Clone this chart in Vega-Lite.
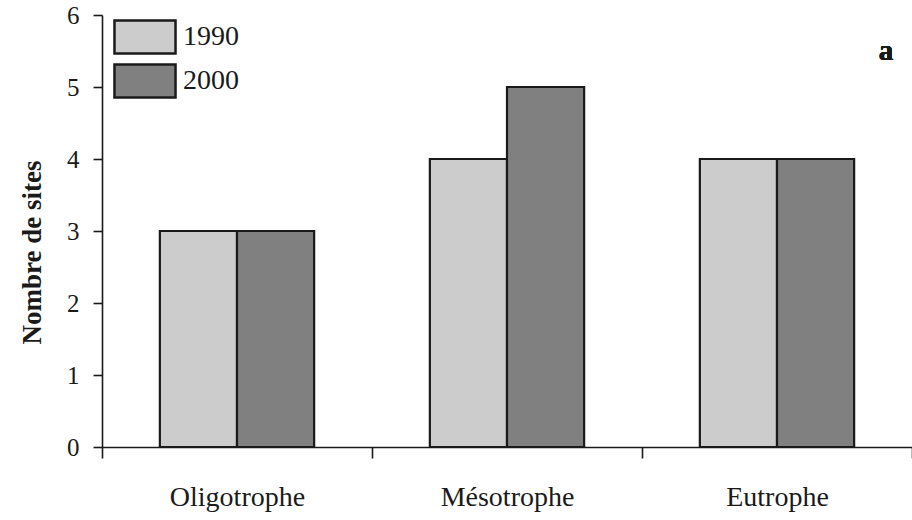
{
  "$schema": "https://vega.github.io/schema/vega-lite/v6.json",
  "width": 810,
  "height": 432,
  "autosize": {"type": "none"},
  "padding": {"left": 102, "top": 15, "right": 0, "bottom": 73},
  "background": "white",
  "data": {
    "values": [
      {"cat": "Oligotrophe", "year": "1990", "value": 3},
      {"cat": "Oligotrophe", "year": "2000", "value": 3},
      {"cat": "Mésotrophe", "year": "1990", "value": 4},
      {"cat": "Mésotrophe", "year": "2000", "value": 5},
      {"cat": "Eutrophe", "year": "1990", "value": 4},
      {"cat": "Eutrophe", "year": "2000", "value": 4}
    ]
  },
  "layer": [
    {
      "mark": {"type": "bar", "stroke": "#1a1a1a", "strokeWidth": 2.2},
      "encoding": {
        "x": {
          "field": "cat",
          "type": "nominal",
          "sort": ["Oligotrophe", "Mésotrophe", "Eutrophe"],
          "scale": {"paddingInner": 0, "paddingOuter": 0},
          "axis": {
            "title": null,
            "labelAngle": 0,
            "tickBand": "extent",
            "tickSize": 11,
            "labelPadding": 25,
            "labelFontSize": 28,
            "labelBaseline": "top"
          }
        },
        "xOffset": {
          "field": "year",
          "type": "nominal",
          "scale": {"paddingInner": 0, "paddingOuter": 0.75}
        },
        "y": {
          "field": "value",
          "type": "quantitative",
          "scale": {"domain": [0, 6]},
          "axis": {
            "title": "Nombre de sites",
            "values": [0, 1, 2, 3, 4, 5, 6],
            "format": "d",
            "grid": false,
            "tickSize": 9,
            "labelPadding": 14,
            "labelFontSize": 25,
            "titleFontSize": 27,
            "titleFontWeight": "bold",
            "titleBaseline": "alphabetic",
            "titleAngle": -90,
            "titleX": -62,
            "titleY": 237
          }
        },
        "color": {
          "field": "year",
          "type": "nominal",
          "scale": {"domain": ["1990", "2000"], "range": ["#cccccc", "#808080"]},
          "legend": {
            "title": null,
            "orient": "none",
            "legendX": 25,
            "legendY": 4,
            "padding": 0,
            "symbolType": "M-1.85,-1H1.85V1H-1.85Z",
            "symbolSize": 1089,
            "symbolStrokeColor": "#1a1a1a",
            "symbolStrokeWidth": 2.5,
            "symbolOpacity": 1,
            "labelOffset": 20,
            "labelFontSize": 28,
            "labelFont": "Liberation Serif",
            "labelColor": "#1a1a1a",
            "rowPadding": 0
          }
        }
      }
    },
    {
      "mark": {
        "type": "text",
        "text": "a",
        "font": "Liberation Serif",
        "fontSize": 29,
        "fontWeight": "bold",
        "color": "#1a1a1a",
        "dx": 109,
        "baseline": "middle"
      },
      "encoding": {
        "x": {"datum": "Eutrophe"},
        "y": {"datum": 5.5}
      }
    }
  ],
  "config": {
    "view": {"stroke": null},
    "font": "Liberation Serif",
    "axis": {
      "domainColor": "#1a1a1a",
      "domainWidth": 1.6,
      "tickColor": "#1a1a1a",
      "tickWidth": 1.6,
      "labelColor": "#1a1a1a",
      "titleColor": "#1a1a1a",
      "labelFont": "Liberation Serif",
      "titleFont": "Liberation Serif"
    }
  }
}
